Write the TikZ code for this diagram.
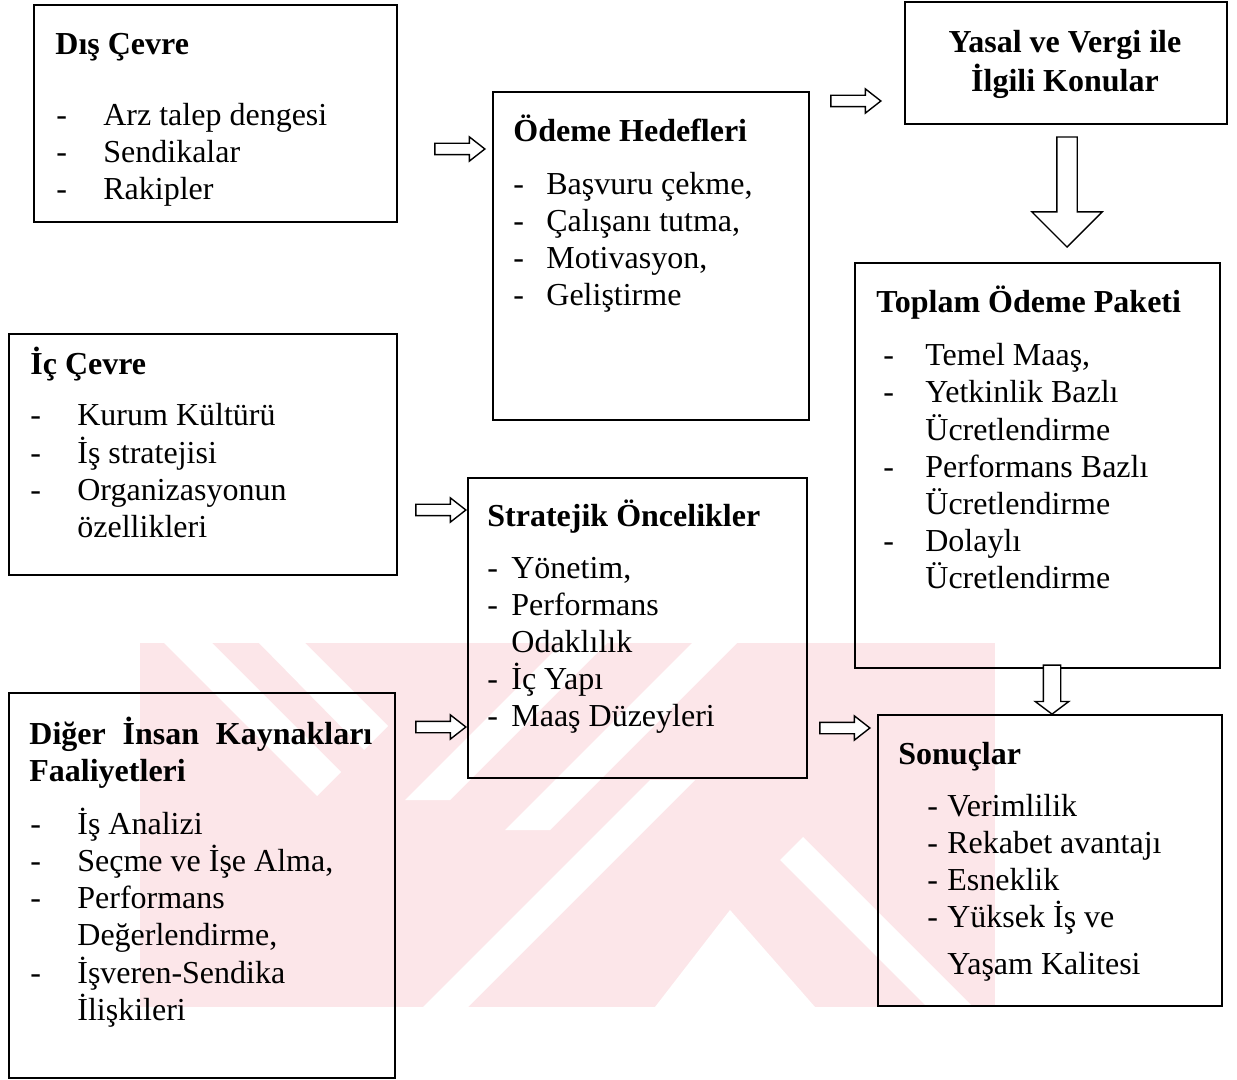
\documentclass[tikz,border=0pt]{standalone}
\usepackage{fontspec}
\setmainfont{Liberation Serif}
\usetikzlibrary{shapes.arrows,calc,fit}
\definecolor{wmpink}{RGB}{252,230,233}
% dash lists with a hanging indent
\newlength\dashw
\newcommand\itemdash[1]{\makebox[\dashw][l]{-}#1}
\newcommand\itemcont[1]{\hspace*{\dashw}#1}
\newcommand\itemlist[2]{{\setlength\dashw{#1}\begin{tabular}[t]{@{}l@{}}#2\end{tabular}}}
\begin{document}
\begin{tikzpicture}[x=0.5pt,y=-0.5pt,
  boxframe/.style={draw, line width=1pt, inner sep=0pt},
  txt/.style={inner sep=0pt, anchor=base west, font=\fontsize{16}{18.5}\selectfont},
  ttl/.style={txt, font=\fontsize{16}{18.5}\selectfont\bfseries},
  hollow/.style={single arrow, draw, fill=white, line width=0.7pt, inner sep=2.5pt,
    single arrow head extend=3.2pt, single arrow tip angle=76, minimum height=25pt, anchor=tip},
  hollowdown/.style={hollow, shape border rotate=270},
]
\fill[white] (0,0) rectangle (1237,1080);
\useasboundingbox (0,0) rectangle (1237,1080);

% faint background emblem
\begin{scope}
  \clip (140,643) rectangle (995,1007);
  \fill[wmpink] (140,643) rectangle (995,1007);
  \fill[white] (164,643) -- (212,643) -- (341,772) -- (317,796) -- cycle;
  \fill[white] (259,643) -- (305,643) -- (388,726) -- (364,750) -- cycle;
  \fill[white] (562,643) -- (607,643) -- (450,800) -- (405,800) -- cycle;
  \fill[white] (692,643) -- (737,643) -- (550,830) -- (505,830) -- cycle;
  \fill[white] (650,780) -- (695,780) -- (468,1007) -- (423,1007) -- cycle;
  \fill[white] (730,910) -- (815,1007) -- (655,1007) -- cycle;
  \fill[white] (780,860) -- (803,837) -- (973,1007) -- (927,1007) -- cycle;
\end{scope}

% boxes
\node[boxframe, fit={(34,5) (397,222)}] (dis) {};
\node[boxframe, fit={(493,92) (809,420)}] (ode) {};
\node[boxframe, fit={(905,2) (1227,124)}] (yasal) {};
\node[boxframe, fit={(855,263) (1220,668)}] (toplam) {};
\node[boxframe, fit={(878,715) (1222,1006)}] (sonuc) {};
\node[boxframe, fit={(9,334) (397,575)}] (ic) {};
\node[boxframe, fit={(468,478) (807,778)}] (strat) {};
\node[boxframe, fit={(9,693) (395,1078)}] (diger) {};

% box texts
\node[ttl] (dis-t) at ($(dis.north west)+(22,51)$) {Dış Çevre};
\node[txt] (dis-l) at ($(dis.north west)+(23,122)$)
  {\itemlist{23.5pt}{\itemdash{Arz talep dengesi}\\ \itemdash{Sendikalar}\\ \itemdash{Rakipler}}};

\node[ttl] (ode-t) at ($(ode.north west)+(21,51)$) {Ödeme Hedefleri};
\node[txt] (ode-l) at ($(ode.north west)+(21,104)$)
  {\itemlist{16.5pt}{\itemdash{Başvuru çekme,}\\ \itemdash{Çalışanı tutma,}\\ \itemdash{Motivasyon,}\\ \itemdash{Geliştirme}}};

\node[ttl, anchor=base] (yasal-t) at ($(yasal.north)+(-1,52)$)
  {\begin{tabular}[t]{@{}c@{}}Yasal ve Vergi ile\\ İlgili Konular\end{tabular}};

\node[ttl] (toplam-t) at ($(toplam.north west)+(22,51)$) {Toplam Ödeme Paketi};
\node[txt] (toplam-l) at ($(toplam.north west)+(29,104)$)
  {\itemlist{21pt}{\itemdash{Temel Maaş,}\\ \itemdash{Yetkinlik Bazlı}\\ \itemcont{Ücretlendirme}\\
    \itemdash{Performans Bazlı}\\ \itemcont{Ücretlendirme}\\ \itemdash{Dolaylı}\\ \itemcont{Ücretlendirme}}};

\node[ttl] (sonuc-t) at ($(sonuc.north west)+(21,50)$) {Sonuçlar};
\node[txt] (sonuc-l) at ($(sonuc.north west)+(50,102)$)
  {\itemlist{10pt}{\itemdash{Verimlilik}\\ \itemdash{Rekabet avantajı}\\ \itemdash{Esneklik}\\
    \itemdash{Yüksek İş ve}\\[5pt] \itemcont{Yaşam Kalitesi}}};

\node[ttl] (ic-t) at ($(ic.north west)+(22,42)$) {İç Çevre};
\node[txt] (ic-l) at ($(ic.north west)+(22,93)$)
  {\itemlist{23.5pt}{\itemdash{Kurum Kültürü}\\ \itemdash{İş stratejisi}\\ \itemdash{Organizasyonun}\\ \itemcont{özellikleri}}};

\node[ttl] (strat-t) at ($(strat.north west)+(20,49)$) {Stratejik Öncelikler};
\node[txt] (strat-l) at ($(strat.north west)+(20,101)$)
  {\itemlist{12pt}{\itemdash{Yönetim,}\\ \itemdash{Performans}\\ \itemcont{Odaklılık}\\ \itemdash{İç Yapı}\\ \itemdash{Maaş Düzeyleri}}};

\node[ttl] (diger-t) at ($(diger.north west)+(21,52)$)
  {\begin{tabular}[t]{@{}l@{}}\makebox[171.5pt][s]{Diğer İnsan Kaynakları}\\ Faaliyetleri\end{tabular}};
\node[txt] (diger-l) at ($(diger.north west)+(22,142)$)
  {\itemlist{23.5pt}{\itemdash{İş Analizi}\\ \itemdash{Seçme ve İşe Alma,}\\ \itemdash{Performans}\\ \itemcont{Değerlendirme,}\\
    \itemdash{İşveren-Sendika}\\ \itemcont{İlişkileri}}};

% hollow block arrows between the boxes
\node[hollow] (a1) at ($(ode.north west)+(-6,58)$) {};
\node[hollow] (a2) at ($(yasal.north west)+(-22,100)$) {};
\node[hollowdown, minimum height=55pt, inner sep=4.75pt, single arrow head extend=12.5pt,
  single arrow tip angle=90] (a3) at ($(yasal.south)+(1,123)$) {};
\node[hollow] (a4) at ($(strat.north west)+(0,33)$) {};
\node[hollow] (a5) at ($(strat.north west)+(0,250)$) {};
\node[hollow] (a6) at ($(sonuc.north west)+(-6,14)$) {};
\node[hollowdown, minimum height=24.5pt, inner sep=4pt, single arrow head extend=4pt,
  single arrow tip angle=106] (a7) at ($(sonuc.north west)+(175,1)$) {};
\end{tikzpicture}
\end{document}
